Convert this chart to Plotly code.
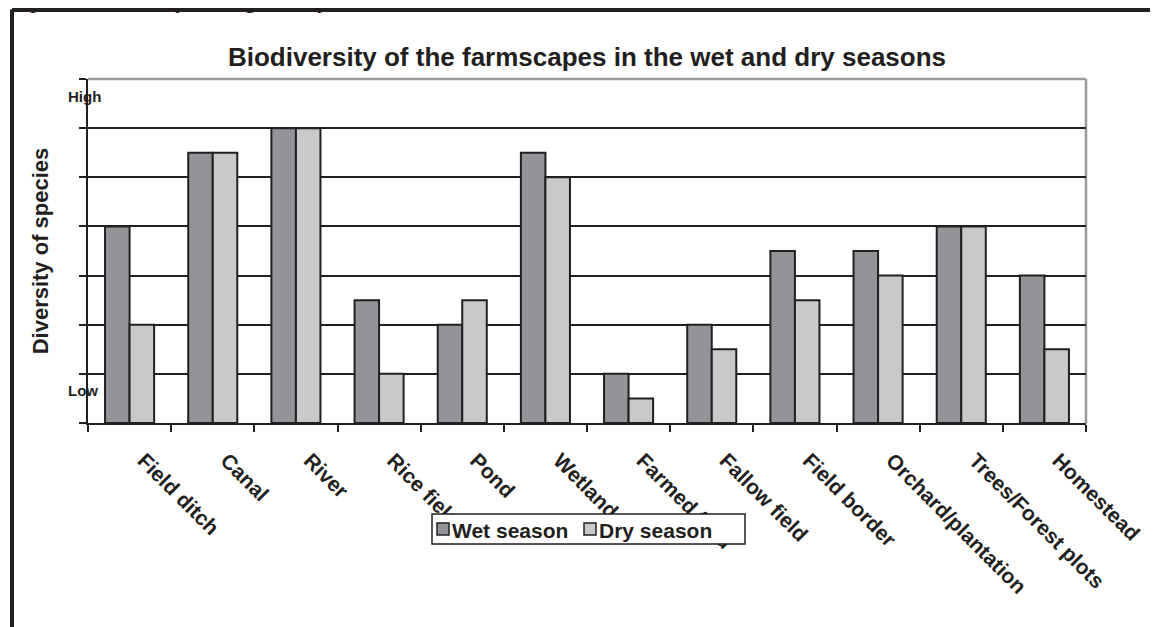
import plotly.graph_objects as go

categories = ["Field ditch", "Canal", "River", "Rice field", "Pond", "Wetland",
              "Farmed field", "Fallow field", "Field border", "Orchard/plantation",
              "Trees/Forest plots", "Homestead"]
wet_season = [4, 5.5, 6, 2.5, 2, 5.5, 1, 2, 3.5, 3.5, 4, 3]
dry_season = [2, 5.5, 6, 1, 2.5, 5, 0.5, 1.5, 2.5, 3, 4, 1.5]
series_names = ["Wet season", "Dry season"]
series_colors = ["#939497", "#c8c9cb"]

# page has an 8px body margin; L/T are the target page positions of the plot area
OFF = 8
L, T, PW, PH = 88, 79, 998, 344
def px(x): return (x - L) / PW
def py(y): return (T + PH - y) / PH

fig = go.Figure()
for name, vals, col in zip(series_names, [wet_season, dry_season], series_colors):
    fig.add_trace(go.Bar(x=categories, y=vals, name=name, showlegend=False,
                         marker=dict(color=col, line=dict(color="#231f20", width=2))))

font_family = "Liberation Sans, Arial, sans-serif"
INK = "#231f20"
fig.update_layout(
    width=1158, height=627,
    margin=dict(l=L - OFF, r=1158 - (L - OFF) - PW, t=T - OFF, b=627 - (T - OFF) - PH),
    paper_bgcolor="white", plot_bgcolor="white",
    barmode="group", bargap=0.41, bargroupgap=0,
    font=dict(family=font_family, color=INK),
    title=dict(text="<b>Biodiversity of the farmscapes in the wet and dry seasons</b>",
               x=0.5, xref="paper", y=1 - (57 - OFF) / 627, yanchor="middle",
               font=dict(size=26, color=INK)),
    xaxis=dict(showline=True, linecolor=INK, linewidth=2,
               ticks="outside", ticklen=7, tickwidth=2, tickcolor=INK,
               tickson="boundaries", tickangle=45, ticklabelstandoff=15, ticklabelshift=14,
               tickfont=dict(size=21, color=INK, family=font_family, weight="bold"),
               showgrid=False),
    yaxis=dict(range=[0, 7], dtick=1, showticklabels=False, showline=True,
               linecolor=INK, linewidth=2, ticks="outside", ticklen=7,
               tickwidth=2, tickcolor=INK, showgrid=True, gridcolor=INK,
               gridwidth=2, zeroline=False,
               title=dict(text="<b>Diversity of species</b>", standoff=24,
                          font=dict(size=22, color=INK))),
)

# plot area border (top and right, gray)
fig.add_shape(type="line", xref="paper", yref="paper", x0=0, x1=1, y0=1, y1=1,
              line=dict(color="#9a9a9c", width=2.5), layer="below")
fig.add_shape(type="line", xref="paper", yref="paper", x0=1, x1=1, y0=0, y1=1,
              line=dict(color="#9a9a9c", width=2.5), layer="below")

# outer frame (black, top and left)
fig.add_shape(type="line", xref="paper", yref="paper", x0=px(12), x1=px(1200),
              y0=py(9.5), y1=py(9.5), line=dict(color=INK, width=5))
fig.add_shape(type="line", xref="paper", yref="paper", x0=px(12), x1=px(12),
              y0=py(9.5), y1=py(700), line=dict(color=INK, width=4))

# legend box (drawn over the tick labels, as in the original)
LEG_X0, LEG_X1, LEG_Y0, LEG_Y1 = 432, 745, 514, 544
fig.add_shape(type="rect", xref="paper", yref="paper",
              x0=px(LEG_X0), x1=px(LEG_X1), y0=py(LEG_Y1), y1=py(LEG_Y0),
              fillcolor="white", line=dict(color=INK, width=1.5))
item_x = [437, 584]
ymid = (LEG_Y0 + LEG_Y1) / 2
for xi, name, col in zip(item_x, series_names, series_colors):
    fig.add_shape(type="rect", xref="paper", yref="paper",
                  x0=px(xi), x1=px(xi + 12), y0=py(ymid + 6), y1=py(ymid - 6),
                  fillcolor=col, line=dict(color=INK, width=1.5))
    fig.add_annotation(text=f"<b>{name}</b>", xref="paper", yref="paper",
                       x=px(xi + 13), y=py(ymid + 1), xanchor="left", yanchor="middle",
                       showarrow=False, font=dict(size=21, color=INK))

# High / Low labels
fig.add_annotation(text="<b>High</b>", xref="paper", yref="paper", x=px(66), y=py(96),
                   xanchor="left", yanchor="middle", showarrow=False,
                   font=dict(size=15, color=INK))
fig.add_annotation(text="<b>Low</b>", xref="paper", yref="paper", x=px(66), y=py(390),
                   xanchor="left", yanchor="middle", showarrow=False,
                   font=dict(size=15, color=INK))

# partial line of page text at the top
fig.add_annotation(text="drop in biodiversity during the dry season.", xref="paper", yref="paper",
                   x=px(-4), y=py(15), xanchor="left", yanchor="bottom", showarrow=False,
                   font=dict(size=24, color=INK, family="Liberation Serif, Times New Roman, serif"))

fig.write_html("out.html")
